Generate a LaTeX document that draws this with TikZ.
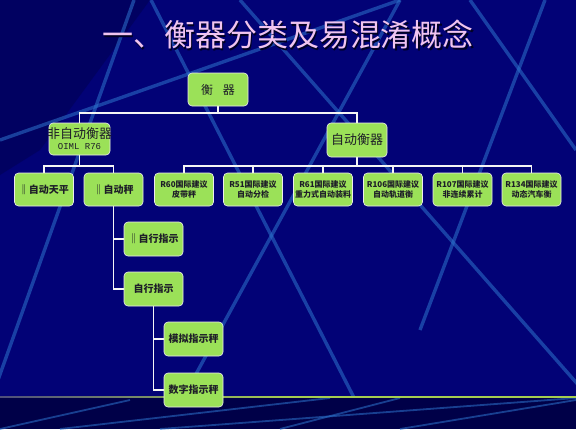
\documentclass[tikz,border=0pt]{standalone}
\usepackage{fontspec}
\setmainfont{Liberation Serif}
\newfontfamily\cjk{Noto Sans CJK SC}
\newfontfamily\monof{Liberation Mono}
\definecolor{bgnavy}{RGB}{2,2,118}
\definecolor{bgdark}{RGB}{0,0,72}
\definecolor{streak}{RGB}{45,115,205}
\definecolor{boxgreen}{RGB}{155,225,88}
\definecolor{boxtext}{RGB}{30,30,40}
\definecolor{titlecol}{RGB}{240,196,240}
\definecolor{linegreen}{RGB}{165,205,80}
\pgfdeclarelayer{back}
\pgfdeclarelayer{conns}
\pgfsetlayers{back,conns,main}
\begin{document}
\begin{tikzpicture}[x=1pt,y=-1pt,
  box/.style={draw=white!85!gray, line width=0.6pt, fill=boxgreen, rounded corners=4pt,
     minimum width=59pt, minimum height=33pt, inner sep=1pt, text=boxtext, align=center,
     font=\cjk\bfseries\fontsize{10}{12}\selectfont},
  rbox/.style={box, font=\cjk\bfseries\fontsize{8}{9.5}\selectfont},
  conn/.style={draw=white!92!gray, line width=1.1pt},
  bgline/.style={draw=streak, line width=3.4pt, opacity=0.55}]
\useasboundingbox (0,0) rectangle (576,429);
% title
\node (title) [text=titlecol, font=\cjk\fontsize{31}{31}\selectfont] at (288,35) {一、衡器分类及易混淆概念};
% nodes
\node[box, minimum width=60pt, font=\cjk\fontsize{12}{12}\selectfont] (top) at (218,89.5) {衡\hspace{0.8em}器};
\node[box, minimum width=61pt, minimum height=32pt, font=\cjk\fontsize{10}{12}\selectfont] (nonauto) at (79.5,139)
  {{\fontsize{13}{14}\selectfont\makebox[0pt]{非自动衡器}}\\[-1pt]{\monof\fontsize{9}{10}\selectfont OIML R76}};
\node[box, minimum width=60pt, minimum height=34pt, font=\cjk\fontsize{13}{14}\selectfont] (auto) at (357,140) {自动衡器};
\node[box] (bal) at (44,189.5) {‖自动天平};
\node[box] (scl) at (113.5,189.5) {‖自动秤};
\node[rbox] (r60) at (184,189.5) {R60国际建议\\皮带秤};
\node[rbox] (r51) at (253,189.5) {R51国际建议\\自动分检};
\node[rbox] (r61) at (323,189.5) {R61国际建议\\\makebox[0pt]{重力式自动装料}};
\node[rbox] (r106) at (393,189.5) {R106国际建议\\自动轨道衡};
\node[rbox] (r107) at (462.5,189.5) {R107国际建议\\非连续累计};
\node[rbox] (r134) at (531.5,189.5) {R134国际建议\\动态汽车衡};
\node[box, minimum height=34pt] (nonself) at (153.5,239) {‖自行指示};
\node[box, minimum height=34pt] (selfind) at (153.5,289) {自行指示};
\node[box, minimum height=34pt] (analog) at (193.5,339) {模拟指示秤};
\node[box, minimum height=34pt] (digital) at (193.5,390) {数字指示秤};
% background
\begin{pgfonlayer}{back}
\fill[bgnavy] (0,0) rectangle (576,429);
\fill[bgdark, opacity=0.45] (0,0) -- (150,0) -- (40,150) -- (0,175) -- cycle;
\begin{scope}
\clip (0,0) rectangle (576,397);
\draw[bgline] (0,140) -- (400,0);
\draw[bgline] (151,0) -- (370,429);
\draw[bgline] (240,0) -- (617,429);
\draw[bgline] (400,0) -- (166,429);
\draw[bgline] (134,0) -- (-2,380);
\draw[bgline] (470,0) -- (576,150);
\draw[bgline] (545,0) -- (420,330);
\end{scope}
\fill[bgdark] (0,397) rectangle (576,429);
\begin{scope}
\clip (0,398) rectangle (576,429);
\draw[bgline, line width=1.8pt] (0,429) -- (130,400);
\draw[bgline, line width=1.8pt] (60,429) -- (330,398);
\draw[bgline, line width=1.8pt] (160,429) -- (576,398);
\draw[bgline, line width=1.8pt] (280,429) -- (400,398);
\draw[bgline, line width=1.8pt] (400,429) -- (576,400);
\end{scope}
\shade[left color=gray!60!bgnavy, right color=linegreen, middle color=linegreen]
  (0,396.2) rectangle (576,397.8);
\node[text=black!70!bgnavy, font=\cjk\fontsize{31}{31}\selectfont] at (289.2,36.2) {一、衡器分类及易混淆概念};
\end{pgfonlayer}
% connectors
\coordinate (h1) at (218,113);
\coordinate (h2) at (357,166);
\coordinate (h3) at (79.5,166);
\begin{pgfonlayer}{conns}
\draw[conn] (top.south) -- (h1);
\draw[conn] (h1) -| (nonauto.north);
\draw[conn] (h1) -| (auto.north);
\draw[conn] (auto.south) -- (h2);
\foreach \n in {r60,r51,r61,r106,r107,r134} {\draw[conn] (h2) -| (\n.north);}
\draw[conn] (nonauto.south) -- (h3);
\draw[conn] (h3) -| (bal.north);
\draw[conn] (h3) -| (scl.north);
\draw[conn] (scl.south) |- (nonself.west);
\draw[conn] (scl.south) |- (selfind.west);
\draw[conn] (selfind.south) |- (analog.west);
\draw[conn] (selfind.south) |- (digital.west);
\end{pgfonlayer}
\end{tikzpicture}
\end{document}
